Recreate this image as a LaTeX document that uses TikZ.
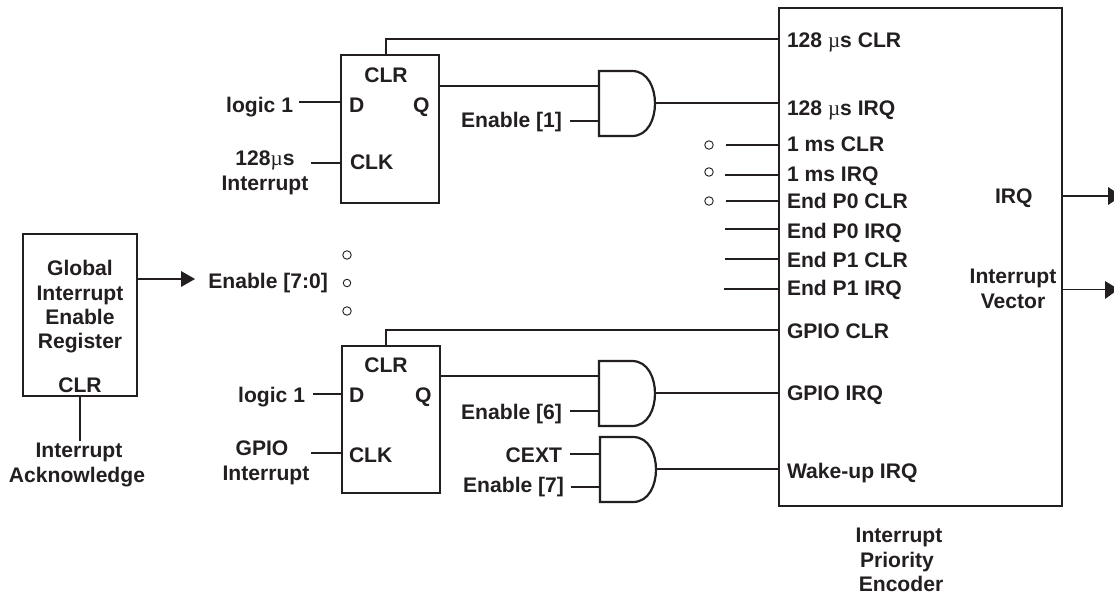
\documentclass[tikz,border=0pt]{standalone}
\usepackage{fontspec}
\setmainfont{Liberation Sans}[BoldFont={Liberation Sans Bold}]
\newfontfamily\symfont{Liberation Serif}
\definecolor{ink}{HTML}{231F20}
\newcommand\muu{{\symfont\mdseries µ}}
\tikzset{
  x=1pt,y=-1pt,
  wire/.style={draw=ink,line width=1.6pt},
  box/.style={draw=ink,line width=1.9pt,rectangle,inner sep=0pt,outer sep=0pt},
  gatebox/.style={rectangle,inner sep=0pt,outer sep=0pt,minimum width=56pt,minimum height=65pt,anchor=north west},
  gateline/.style={draw=ink,line width=2.2pt,line join=miter},
  bub/.style={circle,draw=ink,line width=0.9pt,inner sep=0pt,outer sep=0pt,minimum size=8.5pt},
  head/.style={fill=ink,draw=none},
  lab/.style={inner sep=0pt,outer sep=0pt,text=ink,font=\fontsize{21.1}{24}\selectfont\bfseries},
  labl/.style={lab,anchor=base west},
  labr/.style={lab,anchor=base east},
  labc/.style={lab,anchor=base},
}
\newcommand\andgate[3]{%
  \node[gatebox] (#1) at (#2,#3) {};
  \draw[gateline,shift={(#2,#3)}] (0,0) -- (33,0) .. controls (49,0) and (56,17) .. (56,32.5) .. controls (56,48) and (49,65) .. (33,65) -- (0,65) -- cycle;}
\begin{document}
\begin{tikzpicture}
\useasboundingbox (0,0) rectangle (1114,594);
\fill[white] (0,0) rectangle (1114,594);
% boxes
\node[box,minimum width=283pt,minimum height=498pt] (enc) at (920.5,257) {};
\node[box,minimum width=98pt,minimum height=148pt] (ff1) at (390,129) {};
\node[box,minimum width=98pt,minimum height=147pt] (ff2) at (391,419.5) {};
\node[box,minimum width=114pt,minimum height=162pt] (ger) at (80,315) {};
\andgate{g1}{599}{71}
\andgate{g2}{599}{361}
\andgate{g3}{600}{437}
% free ends
\coordinate (d1) at (299,102);
\coordinate (c1) at (311,163);
\coordinate (e1) at (570,121);
\coordinate (d2) at (313,394);
\coordinate (c2) at (311,453);
\coordinate (e6) at (570,411);
\coordinate (cx) at (570,454);
\coordinate (e7) at (571,487);
\coordinate (ack) at (80,441);
\coordinate (p1) at (726,145);
\coordinate (p2) at (725,175);
\coordinate (p3) at (726,201);
\coordinate (p4) at (725,229);
\coordinate (p5) at (725,259);
\coordinate (p6) at (724,289);
\coordinate (o1) at (1108,196);
\coordinate (o2) at (1105,289.5);
\coordinate (en) at (181,279);
% flip-flop 1
\draw[wire] (386,0 |- ff1.north) -- (386,39) -- (enc.west |- 0,39);
\draw[wire] (ff1.east |- 0,86) -- (g1.west |- 0,86);
\draw[wire] (g1.east |- 0,103) -- (enc.west |- 0,103);
\draw[wire] (d1) -- (ff1.west |- d1);
\draw[wire] (c1) -- (ff1.west |- c1);
\draw[wire] (e1) -- (g1.west |- e1);
% flip-flop 2
\draw[wire] (386,0 |- ff2.north) -- (386,330) -- (enc.west |- 0,330);
\draw[wire] (ff2.east |- 0,376) -- (g2.west |- 0,376);
\draw[wire] (g2.east |- 0,393) -- (enc.west |- 0,393);
\draw[wire] (d2) -- (ff2.west |- d2);
\draw[wire] (c2) -- (ff2.west |- c2);
\draw[wire] (e6) -- (g2.west |- e6);
\draw[wire] (cx) -- (g3.west |- cx);
\draw[wire] (e7) -- (g3.west |- e7);
\draw[wire] (g3.east |- 0,469) -- (enc.west |- 0,469);
% encoder stubs
\foreach \p in {p1,p2,p3,p4,p5,p6} \draw[wire] (\p) -- (enc.west |- \p);
\draw[wire] (enc.east |- o1) -- (o1);
\draw[wire] (enc.east |- o2) -- (o2);
\fill[head] (1108,187) -- (1114,191) -- (1114,201) -- (1108,205) -- cycle;
\fill[head] (1105,281) -- (1114,286.5) -- (1114,292.5) -- (1105,299) -- cycle;
% global register
\draw[wire] (ger.east |- en) -- (en);
\fill[head] (181,271) -- (195,279) -- (181,287) -- cycle;
\draw[wire] (ger.south) -- (ack);
% bubbles
\node[bub] (b1) at (709,145) {};
\node[bub] (b2) at (709,172) {};
\node[bub] (b3) at (709,201) {};
\node[bub] (b4) at (347,255) {};
\node[bub,minimum size=7.5pt] (b5) at (347,283) {};
\node[bub] (b6) at (347,311) {};
% labels: encoder
\node[labl] (t1) at (787,48) {128 \muu s CLR};
\node[labl] (t2) at (787,115) {128 \muu s IRQ};
\node[labl] (t3) at (787,151) {1 ms CLR};
\node[labl] (t4) at (787,181) {1 ms IRQ};
\node[labl] (t5) at (787,208) {End P0 CLR};
\node[labl] (t6) at (787,238) {End P0 IRQ};
\node[labl] (t7) at (787,267) {End P1 CLR};
\node[labl] (t8) at (787,295) {End P1 IRQ};
\node[labl] (t9) at (787,338) {GPIO CLR};
\node[labl] (t10) at (787,400) {GPIO IRQ};
\node[labl] (t11) at (787,478) {Wake-up IRQ};
\node[labl] (t12) at (995,203) {IRQ};
\node[labc] (t13) at (1013,283) {Interrupt};
\node[labc] (t14) at (1013,308) {Vector};
\node[labc] (t15) at (899,542) {Interrupt};
\node[labc] (t16) at (897,567) {Priority};
\node[labc] (t17) at (901,591) {Encoder};
% labels: ff1
\node[labc] (f1) at (386,82) {CLR};
\node[labl] (f2) at (349,112) {D};
\node[labl] (f3) at (413,112) {Q};
\node[labl] (f4) at (350,169) {CLK};
\node[labr] (f5) at (293,112) {logic 1};
\node[labc] (f6) at (265,165) {128\muu s};
\node[labc] (f7) at (265,190) {Interrupt};
\node[labr] (f8) at (562,128) {Enable [1]};
% labels: ff2
\node[labc] (h1) at (386,372) {CLR};
\node[labl] (h2) at (349,402) {D};
\node[labl] (h3) at (415,402) {Q};
\node[labl] (h4) at (349,462) {CLK};
\node[labr] (h5) at (305,402) {logic 1};
\node[labc] (h6) at (262,455) {GPIO};
\node[labc] (h7) at (266,480) {Interrupt};
\node[labr] (h8) at (562,419) {Enable [6]};
\node[labr] (h9) at (562,462) {CEXT};
\node[labr] (h10) at (564,492) {Enable [7]};
% labels: global
\node[labc] (r1) at (80,275) {Global};
\node[labc] (r2) at (80,300) {Interrupt};
\node[labc] (r3) at (80,324) {Enable};
\node[labc] (r4) at (80,348) {Register};
\node[labc] (r5) at (80,392) {CLR};
\node[labc] (r6) at (79,457) {Interrupt};
\node[labc] (r7) at (77,482) {Acknowledge};
\node[labr] (r8) at (328,288) {Enable [7:0]};
\end{tikzpicture}
\end{document}
